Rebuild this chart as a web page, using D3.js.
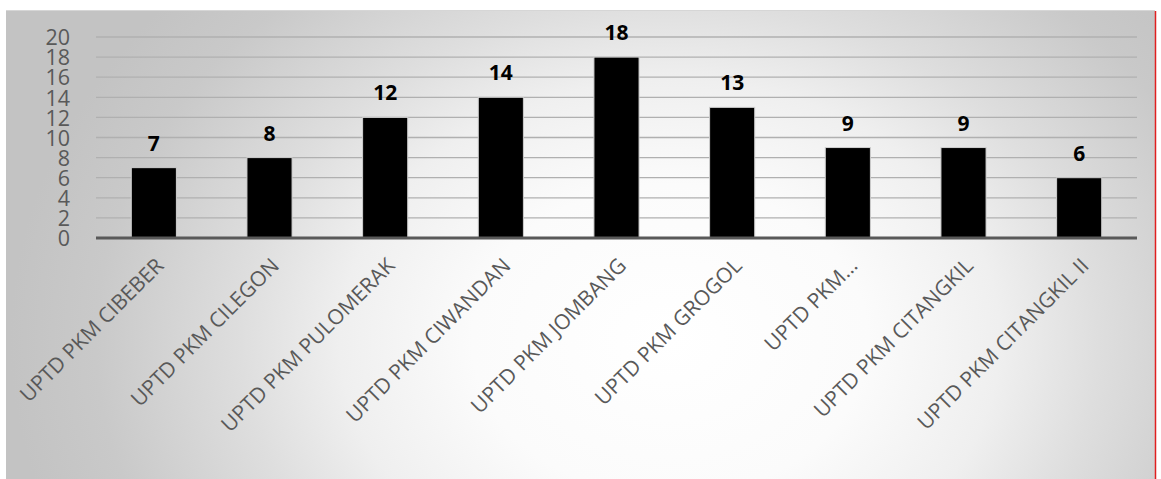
<!DOCTYPE html>
<html>
<head>
<meta charset="utf-8">
<script src="https://cdn.jsdelivr.net/npm/d3@7"></script>
<style>
  html, body { margin: 0; padding: 0; background: #ffffff; }
  svg { display: block; }
</style>
</head>
<body>
<svg id="chart" width="1161" height="479"></svg>
<script>
// Jumlah per puskesmas
const categories = [
  "UPTD PKM CIBEBER",
  "UPTD PKM CILEGON",
  "UPTD PKM PULOMERAK",
  "UPTD PKM CIWANDAN",
  "UPTD PKM JOMBANG",
  "UPTD PKM GROGOL",
  "UPTD PKM…",
  "UPTD PKM CITANGKIL",
  "UPTD PKM CITANGKIL II"
];
const values = [7, 8, 12, 14, 18, 13, 9, 9, 6];
const yTicks = [0, 2, 4, 6, 8, 10, 12, 14, 16, 18, 20];

const W = 1161, H = 479;
const frame = { left: 6, top: 10, right: 1155, bottom: 479 };
const plot = { left: 96, right: 1137, top: 37, bottom: 238 };

const svg = d3.select("#chart");
const defs = svg.append("defs");

// Elliptical background gradient of the chart area
const grad = defs.append("radialGradient")
  .attr("id", "bg")
  .attr("gradientUnits", "userSpaceOnUse")
  .attr("cx", 0).attr("cy", 0).attr("r", 1)
  .attr("gradientTransform", "translate(670,340) scale(660,520)");
[[0, "#ffffff"], [0.3, "#fbfbfb"], [0.5, "#efefef"], [0.65, "#dedede"],
 [0.87, "#c9c9c9"], [1, "#c3c3c3"]].forEach(([o, c]) =>
  grad.append("stop").attr("offset", o).attr("stop-color", c));

svg.append("rect")
  .attr("x", frame.left).attr("y", frame.top)
  .attr("width", frame.right - frame.left)
  .attr("height", frame.bottom - frame.top)
  .attr("fill", "url(#bg)");

// frame edges
svg.append("line")
  .attr("x1", frame.left).attr("x2", frame.right)
  .attr("y1", frame.top + 0.5).attr("y2", frame.top + 0.5)
  .attr("stroke", "#d6d6d6").attr("stroke-width", 1);
svg.append("line")
  .attr("x1", frame.right + 0.5).attr("x2", frame.right + 0.5)
  .attr("y1", frame.top + 1).attr("y2", H)
  .attr("stroke", "#e02020").attr("stroke-width", 1.5);

const x = d3.scaleBand()
  .domain(categories)
  .range([plot.left, plot.right])
  .paddingInner(0.61)
  .paddingOuter(0.305);

const y = d3.scaleLinear()
  .domain([0, 20])
  .range([plot.bottom, plot.top]);

// gridlines
svg.append("g")
  .selectAll("line")
  .data(yTicks.filter(t => t > 0))
  .join("line")
  .attr("x1", plot.left).attr("x2", plot.right)
  .attr("y1", d => y(d)).attr("y2", d => y(d))
  .attr("stroke", "#b0b0b0").attr("stroke-width", 1.3);

// y axis labels
const yAxis = d3.axisLeft(y).tickValues(yTicks).tickSize(0).tickPadding(0);
const yg = svg.append("g")
  .attr("transform", `translate(70,0)`)
  .call(yAxis);
yg.select(".domain").remove();
yg.selectAll("text")
  .attr("fill", "#595959")
  .attr("font-family", "'Open Sans', sans-serif")
  .attr("font-size", 21.5)
  .attr("dy", "0.36em");

// bars
svg.append("g")
  .selectAll("rect")
  .data(values)
  .join("rect")
  .attr("x", (d, i) => x(categories[i]))
  .attr("y", d => y(d))
  .attr("width", x.bandwidth())
  .attr("height", d => y(0) - y(d))
  .attr("fill", "#000000")
  .attr("stroke", "#d0d0d0")
  .attr("stroke-width", 1);

// value labels
svg.append("g")
  .selectAll("text")
  .data(values)
  .join("text")
  .attr("x", (d, i) => x(categories[i]) + x.bandwidth() / 2)
  .attr("y", d => y(d) - 17)
  .attr("text-anchor", "middle")
  .attr("font-family", "'Open Sans', sans-serif")
  .attr("font-weight", "bold")
  .attr("font-size", 21)
  .attr("fill", "#000000")
  .text(d => d);

// baseline
svg.append("line")
  .attr("x1", plot.left).attr("x2", plot.right)
  .attr("y1", y(0)).attr("y2", y(0))
  .attr("stroke", "#595959").attr("stroke-width", 3);

// category labels, rotated
const xAxis = d3.axisBottom(x).tickSize(0).tickPadding(0);
const xg = svg.append("g")
  .attr("transform", `translate(0,${y(0)})`)
  .call(xAxis);
xg.select(".domain").remove();
xg.selectAll("text")
  .attr("fill", "#595959")
  .attr("font-family", "'Open Sans', sans-serif")
  .attr("font-size", 21)
  .attr("text-anchor", "end")
  .attr("dy", 0)
  .attr("transform", "translate(11,29) rotate(-45)");
</script>
</body>
</html>
